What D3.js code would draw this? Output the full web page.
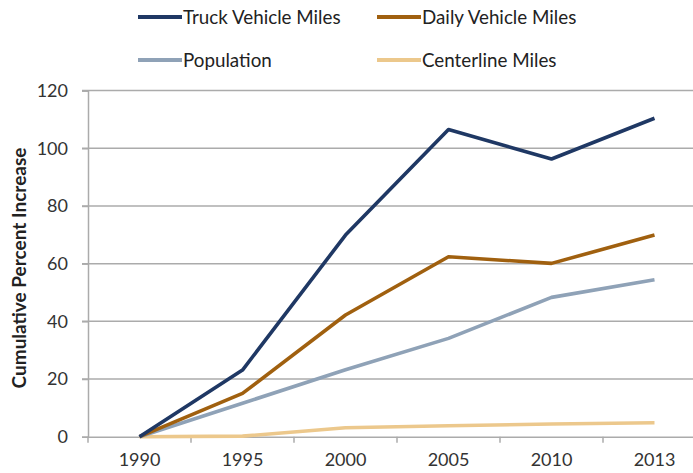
<!DOCTYPE html>
<html><head><meta charset="utf-8">
<script src="https://d3js.org/d3.v7.min.js"></script>
<style>body{margin:0;background:#fff;}svg{display:block;}</style>
</head><body>
<script>
const years = ["1990","1995","2000","2005","2010","2013"];
const truck = [0, 23.1, 69.9, 106.5, 96.3, 110.4];
const daily = [0, 15.0, 42.2, 62.4, 60.1, 69.9];
const population = [0, 11.6, 23.2, 34.1, 48.3, 54.4];
const centerline = [0, 0.2, 3.1, 3.8, 4.4, 4.85];
const yTicks = [0, 20, 40, 60, 80, 100, 120];
const seriesNames = ["Truck Vehicle Miles","Daily Vehicle Miles","Population","Centerline Miles"];
const seriesColors = ["#1f3864","#a0600f","#8fa2b7","#ecc88c"];
const seriesData = [truck, daily, population, centerline];

const W = 693, H = 473;
const svg = d3.select("body").append("svg").attr("width", W).attr("height", H);
const font = "Lato, 'Open Sans', sans-serif";

const x = d3.scaleBand().domain(years).range([88, 706]);
const y = d3.scaleLinear().domain([0, 120]).range([436.7, 90.6]);

// gridlines
svg.append("g").selectAll("line").data(yTicks.filter(d => d > 0)).join("line")
  .attr("x1", 82).attr("x2", 706)
  .attr("y1", d => y(d)).attr("y2", d => y(d))
  .attr("stroke", "#ababab").attr("stroke-width", 1.5);

// y axis
const yAxis = svg.append("g").attr("transform", "translate(88,0)")
  .call(d3.axisLeft(y).tickValues(yTicks).tickSize(6).tickPadding(14));
yAxis.select(".domain").attr("stroke", "#ababab").attr("stroke-width", 1.5);
yAxis.selectAll(".tick line").attr("stroke", "#ababab").attr("stroke-width", 1.5);
yAxis.selectAll(".tick text").attr("font-family", font).attr("font-size", 18).attr("fill", "#333");

// x axis
const xAxis = svg.append("g").attr("transform", `translate(0,${y(0)})`)
  .call(d3.axisBottom(x).tickSize(0).tickPadding(17));
xAxis.select(".domain").attr("stroke", "#ababab").attr("stroke-width", 1.5);
xAxis.selectAll(".tick text").attr("font-family", font).attr("font-size", 18).attr("fill", "#333");
// tick marks at band boundaries
svg.append("g").selectAll("line").data(years).join("line")
  .attr("x1", d => x(d)).attr("x2", d => x(d))
  .attr("y1", y(0)).attr("y2", y(0) + 6)
  .attr("stroke", "#ababab").attr("stroke-width", 1.5);

// y title
svg.append("text")
  .attr("transform", `translate(26,268) rotate(-90)`)
  .attr("text-anchor", "middle")
  .attr("font-family", font).attr("font-weight", "bold").attr("font-size", 19).attr("fill", "#222")
  .text("Cumulative Percent Increase");

// lines
const line = d3.line().x((d, i) => x(years[i]) + x.bandwidth() / 2).y(d => y(d));
const order = [3, 2, 1, 0];
svg.append("g").selectAll("path").data(order).join("path")
  .attr("d", i => line(seriesData[i]))
  .attr("fill", "none")
  .attr("stroke", i => seriesColors[i])
  .attr("stroke-width", 3.6)
  .attr("stroke-linejoin", "round");

// legend
const legPos = [[138, 17], [377, 17], [138, 60], [377, 60]];
const leg = svg.append("g").selectAll("g").data(seriesNames).join("g")
  .attr("transform", (d, i) => `translate(${legPos[i][0]},${legPos[i][1]})`);
leg.append("line").attr("x1", 0).attr("x2", 44).attr("y1", 0).attr("y2", 0)
  .attr("stroke", (d, i) => seriesColors[i]).attr("stroke-width", 4);
leg.append("text").attr("x", 45).attr("y", 0).attr("dy", "0.35em")
  .attr("font-family", font).attr("font-size", 18.8).attr("fill", "#222")
  .text(d => d);
</script>
</body></html>
